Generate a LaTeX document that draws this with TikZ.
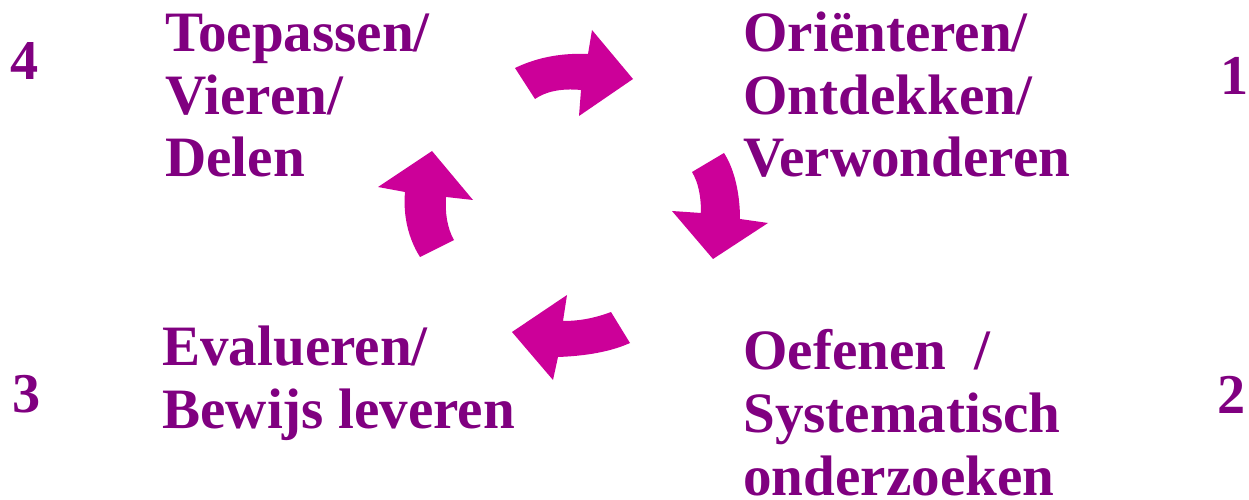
\documentclass[tikz,border=0pt]{standalone}
\usepackage{fontspec}
\setmainfont{Liberation Serif}
\usepackage{tikz}

\definecolor{fasetekst}{RGB}{128,0,128}
\definecolor{pijlkleur}{RGB}{204,0,153}

\begin{document}
\begin{tikzpicture}[x=0.02cm,y=-0.02cm,
  fase/.style={anchor=base west,inner sep=0pt,align=left,text=fasetekst,
    font=\fontsize{32.5}{35.7}\selectfont\bfseries},
  nummer/.style={anchor=base west,inner sep=0pt,text=fasetekst,
    font=\fontsize{32}{35.7}\selectfont\bfseries},
  pijl/.style={fill=pijlkleur,draw=none}]

\useasboundingbox (0,0) rectangle (1249,500);

% the four phases (placed at the baseline of their last line)
\node[fase] (orienteren) at (743,177) {Oriënteren/\\Ontdekken/\\Verwonderen};
\node[fase] (oefenen) at (743,495) {Oefenen~~/\\Systematisch\\onderzoeken};
\node[fase] (evalueren) at (162,428) {Evalueren/\\Bewijs leveren};
\node[fase] (toepassen) at (165,177) {Toepassen/\\Vieren/\\Delen};

% numbers at the sides
\node[nummer] (n1) at (1220,95) {1};
\node[nummer] (n2) at (1217,413) {2};
\node[nummer] (n3) at (12,412) {3};
\node[nummer] (n4) at (10,80) {4};

% curved arrows, clockwise
\fill[pijl] (515,68) .. controls (540,56) and (565,53) .. (588,54) -- (592,30)
  -- (633,79) -- (579,116) -- (581,90) .. controls (560,88) and (545,92) .. (535,99) -- cycle;
\fill[pijl] (724,153) .. controls (735,170) and (740,195) .. (740,219) -- (768,223)
  -- (713,259) -- (672,211) -- (701,213) .. controls (701,195) and (698,182) .. (692,172) -- cycle;
\fill[pijl] (630,343) .. controls (610,352) and (585,356) .. (558,357) -- (553,380)
  -- (512,332) -- (567,295) -- (563,321) .. controls (580,321) and (595,318) .. (611,312) -- cycle;
\fill[pijl] (420,257) .. controls (408,238) and (403,215) .. (405,192) -- (378,187)
  -- (432,151) -- (473,200) -- (446,197) .. controls (445,212) and (447,228) .. (454,240) -- cycle;

\end{tikzpicture}
\end{document}
